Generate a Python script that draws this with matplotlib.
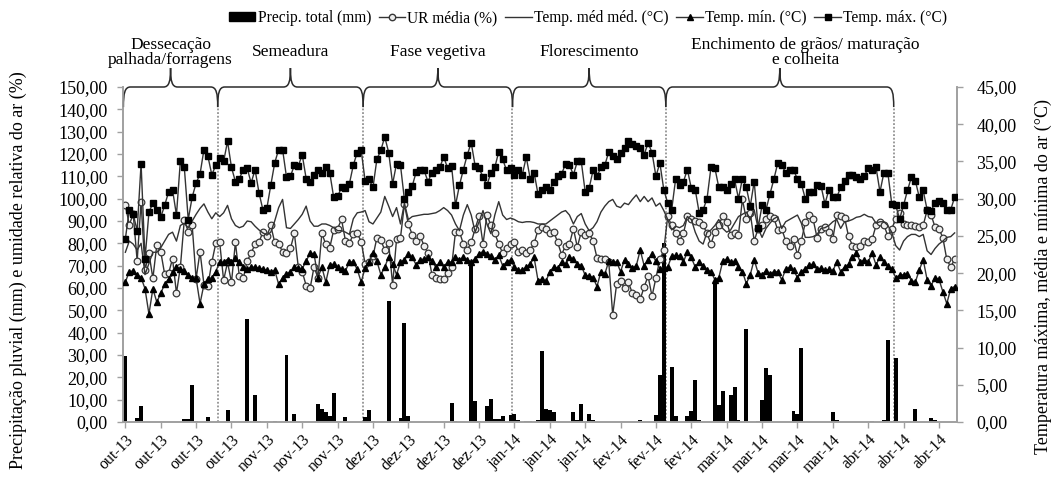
import matplotlib
matplotlib.use('Agg')
import matplotlib.pyplot as plt
from matplotlib.path import Path
from matplotlib.patches import PathPatch, Patch
from matplotlib.lines import Line2D
import numpy as np

plt.rcParams['font.family'] = ['Liberation Serif', 'DejaVu Serif']

# ---------------- data (daily, 01 Oct 2013 -> 30 Apr 2014) ----------------
temp_max = [24.6, 28.5, 27.9, 25.7, 34.7, 21.9, 28.2, 29.4, 28.5, 27.5, 29.1, 30.9, 31.2, 27.8, 35.1, 34.2, 27.2,
            30.2, 32.1, 33.3, 36.6, 35.7, 33.2, 34.5, 35.4, 35.0, 37.7, 34.2, 32.3, 32.7, 33.9, 34.1, 32.1, 33.9,
            30.8, 28.5, 28.7, 31.8, 34.8, 36.6, 36.6, 32.9, 33.0, 34.5, 34.4, 35.9, 32.7, 32.3, 33.2, 33.8, 33.5,
            34.2, 33.5, 30.2, 30.3, 31.5, 31.4, 32.0, 34.5, 36.2, 36.5, 32.4, 32.6, 31.5, 35.3, 36.5, 38.3, 36.2,
            32.0, 34.7, 34.5,
            29.9, 30.9, 31.7, 33.6, 33.8, 33.8, 32.3, 33.5, 33.9, 34.2, 35.6, 34.1, 34.4, 29.1, 31.8, 33.9, 35.9,
            37.5, 34.4, 34.1, 32.9, 31.8, 33.5, 34.2, 36.3, 35.3, 33.8, 34.1, 33.2, 33.8, 33.2, 35.6, 32.7, 33.5,
            30.6,
            31.2, 31.5, 31.1, 32.3, 33.0, 33.3, 34.7, 34.5, 33.2, 35.0, 35.0, 30.9, 31.4, 33.8, 33.0, 34.2, 34.5,
            36.3, 35.7, 35.3, 36.2, 36.8, 37.7, 37.4, 37.1, 36.8, 35.9, 37.5, 36.2, 33.0, 34.8,
            31.2, 29.4, 28.5, 32.6,
            31.8, 32.3, 33.9, 31.4, 31.2, 28.1, 28.5, 30.0, 34.2, 34.1, 31.5, 31.5, 31.2, 32.0, 32.6, 30.0, 32.7,
            31.5, 29.0, 32.3, 26.1, 29.1, 28.5, 30.6, 32.6, 34.8, 34.5, 33.5, 33.9, 33.9, 32.6, 32.0, 30.0, 30.9,
            30.9, 31.8,
            31.7, 29.3, 31.2, 30.2, 30.2, 31.5, 32.4, 33.2, 33.2, 32.9, 32.7, 33.0, 34.1, 33.9, 34.2, 30.9, 33.5,
            33.5, 29.3, 29.1, 27.3, 29.1, 31.1, 32.9, 32.4, 30.2, 31.1, 28.5, 28.4, 29.4, 29.7, 29.4, 28.5, 28.5,
            30.2]

temp_min = [18.8, 20.2, 20.3, 19.8, 19.4, 17.9, 14.5, 17.9, 16.1, 17.3, 18.5, 19.2, 20.2, 20.8, 20.6, 20.3, 19.8,
            19.4, 19.3, 15.9, 18.5, 19.2, 19.4, 20.2, 21.5, 21.5, 21.8, 21.5, 22.0, 21.5, 20.8, 20.5, 20.8, 20.8,
            20.7, 20.5,
            20.4, 20.2, 20.4, 18.5, 19.4, 19.9, 20.2, 20.8, 20.7, 20.6, 21.6, 22.7, 22.6, 19.4, 20.8, 18.8, 21.1,
            21.2, 20.8, 20.5, 20.3, 21.5, 21.5, 20.5, 18.8, 20.7, 21.5, 22.7, 21.6, 19.8, 20.8, 22.2, 21.2, 19.8,
            21.5, 21.8, 22.5,
            22.1, 21.1, 21.8, 21.9, 22.1, 21.6, 20.8, 21.5, 20.8, 21.5, 21.5, 22.1, 21.8, 22.1, 21.8, 21.5, 21.9,
            22.6, 22.9, 22.6, 22.3, 21.8, 22.4, 21.0, 21.5, 21.8, 20.8, 20.4, 20.4, 20.8, 21.2, 22.1, 19.0,
            19.2, 18.9, 20.2, 20.8, 20.7, 21.5, 21.2, 22.1, 21.9, 21.2, 21.0, 19.7, 19.6, 19.4, 18.2, 20.2, 19.9,
            21.6, 21.5, 21.5, 20.2, 21.8, 21.2, 20.7, 21.0, 23.1, 21.0, 21.8, 22.5, 21.6, 20.6, 20.7, 20.8, 22.3,
            22.4,
            22.3, 21.5, 22.9, 22.1, 20.8, 21.5, 21.0, 20.4, 20.2, 19.1, 19.4, 21.6, 21.9, 21.5, 21.6, 20.8, 20.2,
            18.6, 19.8, 21.8, 20.0, 19.8, 20.3, 19.9, 20.2, 20.2, 19.1, 20.5, 20.8, 20.4, 19.4, 20.2, 20.6, 21.1,
            21.2,
            20.5, 20.7, 20.4, 20.5, 20.3, 21.5, 20.2, 20.8, 21.2, 22.1, 22.7, 21.5, 21.8, 21.5, 22.7, 21.1, 22.2,
            21.5, 20.9, 20.6, 19.4, 19.7, 19.8, 19.9, 19.0, 18.8, 20.4, 21.8, 19.1, 18.3, 19.4, 19.2, 17.5, 15.9,
            17.9, 18.2]

temp_med = [22.8, 24.3, 23.9, 23.1, 24.0, 19.8, 21.3, 22.8, 22.8, 23.4, 24.3, 25.2, 25.5, 24.3, 26.4, 26.7, 26.1,
            27.0, 27.9, 28.7, 29.3, 28.2, 27.3, 28.1, 27.6, 28.1, 29.1, 27.3, 26.4, 26.1, 26.3, 27.0, 26.9, 26.3,
            25.8, 25.4, 25.1, 25.5, 27.0, 28.8, 29.9, 26.1, 26.0, 26.6, 27.2, 27.9, 29.0, 27.0, 26.3, 26.3, 26.6,
            26.6, 26.4, 26.1, 25.7, 25.7, 25.5, 25.2, 27.3, 28.1, 28.2,
            28.4, 26.9, 26.6, 27.4, 28.2, 30.3, 29.0, 27.6, 28.8, 26.6, 29.4, 27.2, 27.6, 27.7, 27.8, 27.9, 27.9,
            28.0, 28.1, 28.4, 28.8, 28.4, 27.8, 26.6, 25.7, 27.8, 29.2, 27.8, 25.5, 26.9, 28.4, 26.6, 25.3, 27.8,
            29.6, 27.8, 27.2, 27.4, 27.2, 26.9, 26.8, 26.9, 26.9, 26.8, 26.6, 26.6, 26.6, 27.0, 27.4, 27.8, 28.2,
            28.4, 27.8, 26.6, 27.6, 28.0, 26.6, 25.7, 26.1, 26.9, 28.2, 29.0, 29.6, 29.9, 29.0, 28.8, 29.4, 29.2,
            29.9, 30.5, 29.6, 30.3, 29.6, 30.1, 29.0, 29.4, 28.4, 27.2,
            25.8, 26.3, 26.1, 26.4, 27.6, 27.2, 25.5, 24.3, 23.9, 25.5, 25.8, 26.4, 27.2, 26.0, 25.5, 25.8, 26.7,
            27.6, 27.9, 28.2, 27.2, 28.5, 26.0, 24.8, 26.0, 26.7, 27.3, 27.6, 26.0, 26.9, 27.2, 27.5, 27.8, 26.7,
            24.8, 24.8, 24.9, 25.2, 26.0, 26.1, 26.4, 26.9, 27.2, 26.0, 26.9, 27.0, 27.2, 27.5, 27.6, 27.9, 27.6,
            27.5, 26.7, 26.9, 26.9, 26.4, 25.5, 23.7, 23.1, 24.3, 24.9, 25.2, 25.2, 24.9, 25.2, 23.0, 22.5, 23.3,
            23.9, 24.3, 24.8, 24.9, 25.4]

ur_media = [97.2, 88.3, 93.2, 72.1, 98.6, 68.0, 75.6, 64.3, 79.3, 76.3, 66.2, 66.6, 73.1, 57.7, 69.4, 90.5, 85.2,
            88.0, 64.2, 76.3, 61.5, 61.1, 71.5, 80.0, 80.4, 63.5, 71.5, 62.5, 80.4, 65.3, 64.3, 72.1, 75.6, 79.7,
            80.4, 85.2,
            83.2, 88.0, 80.4, 79.7, 76.3, 75.6, 77.7, 84.5, 69.4, 67.3, 61.1, 59.8, 69.4, 64.6, 84.5, 79.5, 78.0,
            85.9, 86.6, 90.7, 81.1, 80.0, 84.1, 84.5, 80.8, 70.8, 71.5, 74.2, 82.5, 81.4, 77.0, 80.0, 61.5, 81.8,
            82.5, 97.5, 88.5,
            83.9, 81.1, 83.2, 79.0, 75.6, 66.0, 64.6, 63.9, 63.9, 66.6, 69.4, 85.2, 85.2, 79.7, 77.0, 80.4, 86.6,
            92.1, 79.7, 92.8, 88.0, 84.5, 79.7, 75.6, 77.7, 79.7, 80.4, 76.3, 77.0, 75.6, 77.0, 80.0, 86.0,
            87.3, 86.6, 84.5, 85.2, 80.4, 74.9, 79.0, 79.7, 86.6, 78.3, 85.2, 83.9, 84.5, 81.1, 73.5, 72.8, 72.8,
            71.5, 48.0, 61.8, 63.2, 59.8, 62.5, 57.7, 57.0, 54.9, 60.5, 65.3, 56.3, 64.6, 72.8, 77.0, 92.1, 88.0,
            84.5,
            81.1, 84.5, 92.1, 90.7, 90.1, 89.4, 88.0, 84.5, 79.7, 85.2, 88.3, 92.1, 89.4, 83.9, 84.5, 83.9, 99.7,
            90.7, 93.5, 81.1, 86.6, 88.0, 90.7, 92.1, 91.4, 85.9, 86.6, 81.1, 79.0, 81.8, 74.9, 81.1, 89.4, 92.8,
            90.7, 82.5,
            86.6, 87.3, 85.2, 81.8, 92.8, 92.1, 91.4, 83.2, 79.0, 78.3, 78.6, 81.1, 80.4, 81.8, 88.0, 89.4, 88.3,
            83.2, 86.6, 90.7, 93.8, 88.7, 88.0, 88.0, 87.7, 87.3, 88.0, 94.9, 92.8, 87.3, 86.6, 82.5, 72.8, 69.4,
            72.8]

rain_days = [0, 3, 4, 15, 16, 17, 18, 21, 26, 31, 33, 34, 38, 41, 43, 49, 50, 51, 52, 53, 56, 61, 62, 63, 67,
             70, 71, 72, 83, 84, 88, 89, 90, 92, 93, 94, 95, 96, 98, 99, 100, 102, 103, 105, 106, 107, 108, 109,
             114, 115, 116, 118, 119, 131, 135, 136, 137, 139, 140, 143, 144, 145, 146, 150, 151, 152, 154, 155,
             156, 158, 161, 162, 163, 164, 170, 171, 172, 180, 181, 190, 193, 194, 196, 201, 205, 206]
rain_mm = [29.5, 2.0, 7.0, 1.5, 1.5, 16.5, 0.5, 2.3, 5.2, 46.0, 12.0, 0.5, 0.5, 30.0, 3.5, 8.0, 6.0, 4.3, 2.5,
           13.0, 2.3, 2.3, 5.2, 0.5, 54.0, 1.6, 44.5, 2.5, 8.5, 0.4, 71.0, 9.2, 0.5, 7.2, 10.5, 1.3, 1.3, 2.7,
           3.0, 3.5, 0.8, 0.5, 0.4, 0.9, 32.0, 5.8, 5.5, 4.7, 4.5, 1.0, 8.1, 3.5, 0.7, 0.8, 3.0, 21.0, 80.0,
           24.5, 2.5, 2.5, 5.0, 19.0, 1.0, 62.0, 7.6, 13.9, 12.0, 15.5, 1.0, 41.8, 0.4, 10.0, 24.0, 21.0, 5.0,
           3.5, 33.0, 4.5, 1.0, 0.4, 0.7, 36.5, 28.5, 5.8, 1.8, 0.7]

tick_days = [0, 9, 18, 27, 36, 45, 54, 63, 72, 81, 90, 99, 108, 117, 126, 135, 144, 153, 162, 171, 180, 189,
             198, 207]
tick_labels = ['out-13', 'out-13', 'out-13', 'out-13', 'nov-13', 'nov-13', 'nov-13', 'dez-13', 'dez-13',
               'dez-13', 'dez-13', 'jan-14', 'jan-14', 'jan-14', 'fev-14', 'fev-14', 'fev-14', 'mar-14',
               'mar-14', 'mar-14', 'mar-14', 'abr-14', 'abr-14', 'abr-14']

phase_names = ['Dessecação\npalhada/forragens', 'Semeadura', 'Fase vegetiva', 'Florescimento',
               'Enchimento de grãos/ maturação\ne colheita']
phase_bounds = [-0.5, 23.5, 60.5, 98.5, 137.5, 195.5]

# ---------------- figure ----------------
W, H = 1057, 487
fig = plt.figure(figsize=(W / 100, H / 100), dpi=100)
L, R, T, B = 123, 957, 87, 422
ax = fig.add_axes([L / W, 1 - B / H, (R - L) / W, (B - T) / H])
ax2 = ax.twinx()

axis_col = '#a0a0a0'
line_col = '#333333'

ax.bar(rain_days, rain_mm, width=1.0, color='black', zorder=2)
ax.plot(np.arange(len(ur_media)), ur_media, color=line_col, lw=1.0, marker='o', ms=4.8,
        mfc='#eeeeee', mec='#383838', mew=0.9, zorder=3)

ax2.plot(np.arange(len(temp_med)), temp_med, color=line_col, lw=1.0, zorder=3)
ax2.plot(np.arange(len(temp_min)), temp_min, color=line_col, lw=1.0, marker='^', ms=4.8,
         mfc='black', mec='black', zorder=4)
ax2.plot(np.arange(len(temp_max)), temp_max, color=line_col, lw=1.0, marker='s', ms=4.5,
         mfc='black', mec='black', zorder=5)

xmin, xmax = -0.6, 211.6
ax.set_xlim(xmin, xmax)
ax.set_ylim(0, 150)
ax2.set_ylim(0, 45)

fmt = lambda v: f"{v:.2f}".replace('.', ',')
ax.set_yticks(np.arange(0, 151, 10))
ax.set_yticklabels([fmt(v) for v in np.arange(0, 151, 10)], fontsize=13)
ax2.set_yticks(np.arange(0, 46, 5))
ax2.set_yticklabels([fmt(v) for v in np.arange(0, 46, 5)], fontsize=13)

ax.set_xticks(tick_days)
ax.set_xticklabels(tick_labels, rotation=45, ha='right', rotation_mode='anchor', fontsize=11.5)

for a in (ax, ax2):
    a.spines['top'].set_visible(False)
    for s in ('left', 'right', 'bottom'):
        a.spines[s].set_color(axis_col)
        a.spines[s].set_linewidth(1.2)
    a.tick_params(colors=axis_col, labelcolor='black', length=4, width=1, direction='out')
ax.tick_params(axis='x', pad=3)
ax.tick_params(axis='y', pad=7)
ax2.tick_params(axis='y', pad=10)

fig.text(18 / W, 1 - 270 / H, 'Precipitação pluvial (mm) e umidade relativa do ar (%)', rotation=90,
         ha='center', va='center', fontsize=13)
fig.text(1043 / W, 1 - 276 / H, 'Temperatura máxima, média e mínima do ar (°C)', rotation=90,
         ha='center', va='center', fontsize=13)

# ---------------- phase braces ----------------
def draw_brace(a, b, ytop=150.0, drop=9.0, rise=8.5, hk=1.8):
    m = (a + b) / 2
    verts = [(a, ytop - drop),
             (a, ytop - drop * 0.3), (a + hk * 0.2, ytop), (a + hk, ytop),
             (m - hk, ytop),
             (m - hk * 0.2, ytop), (m, ytop + rise * 0.3), (m, ytop + rise),
             (m, ytop + rise * 0.3), (m + hk * 0.2, ytop), (m + hk, ytop),
             (b - hk, ytop),
             (b - hk * 0.2, ytop), (b, ytop - drop * 0.3), (b, ytop - drop)]
    codes = [Path.MOVETO, Path.CURVE4, Path.CURVE4, Path.CURVE4, Path.LINETO,
             Path.CURVE4, Path.CURVE4, Path.CURVE4, Path.CURVE4, Path.CURVE4, Path.CURVE4,
             Path.LINETO, Path.CURVE4, Path.CURVE4, Path.CURVE4]
    ax.add_patch(PathPatch(Path(verts, codes), fill=False, edgecolor='#2b2b2b', lw=1.1,
                           clip_on=False, zorder=6))

label_x = [11.5, 42.0, 79.5, 118.0, 173.0]
for i in range(len(phase_names)):
    a, b = phase_bounds[i], phase_bounds[i + 1]
    draw_brace(a, b)
    ax.text(label_x[i], 165.5, phase_names[i], ha='center', va='center', fontsize=12.5,
            linespacing=0.95, clip_on=False)
for b in phase_bounds[1:]:
    ax.plot([b, b], [0, 141], color='#808080', lw=1.1, ls=(0, (1.2, 1.2)), clip_on=False, zorder=1)

# ---------------- legend ----------------
handles = [Patch(facecolor='black', edgecolor='black'),
           Line2D([], [], color=line_col, lw=1, marker='o', ms=4.6, mfc='#eeeeee', mec='#383838'),
           Line2D([], [], color=line_col, lw=1),
           Line2D([], [], color=line_col, lw=1, marker='^', ms=4.6, mfc='black', mec='black'),
           Line2D([], [], color=line_col, lw=1, marker='s', ms=4.2, mfc='black', mec='black')]
labels = ['Precip. total (mm)', 'UR média (%)', 'Temp. méd méd. (°C)', 'Temp. mín. (°C)', 'Temp. máx. (°C)']
fig.legend(handles, labels, loc='center', bbox_to_anchor=(588 / W, 1 - 18 / H), ncol=5, frameon=False,
           fontsize=11.2, handlelength=1.7, handleheight=0.6, handletextpad=0.15, columnspacing=0.5)

fig.savefig('out.png', dpi=100)
